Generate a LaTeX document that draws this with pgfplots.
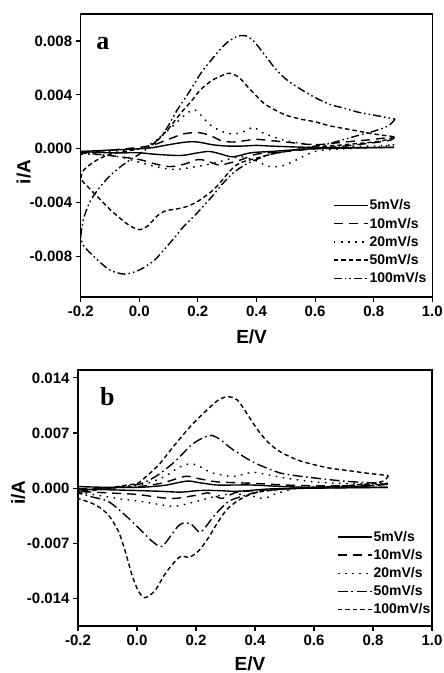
\documentclass[border=0pt]{standalone}
\usepackage{fontspec}
\setmainfont{Liberation Sans}
\newfontfamily\lettfont{Liberation Serif}
\usepackage{pgfplots}
\pgfplotsset{compat=1.18}

\pgfplotsset{
  cvaxis/.style={
    scale only axis,
    xmin=-0.2, xmax=1.0,
    xtick={-0.2,0,0.2,0.4,0.6,0.8,1.0},
    tick align=outside, tick pos=left,
    major tick length=5pt,
    every tick/.style={black, line width=1.1pt},
    axis line style={line width=1.6pt},
    /pgf/number format/assume math mode=true,
    ticklabel style={font=\bfseries\fontsize{15}{15}\selectfont},
    xticklabel style={/pgf/number format/fixed, /pgf/number format/fixed zerofill, /pgf/number format/precision=1},
    yticklabel style={/pgf/number format/fixed, /pgf/number format/fixed zerofill, /pgf/number format/precision=3},
    scaled y ticks=false,
    xlabel={E/V}, ylabel={i/A},
    legend style={draw=none, fill=none, inner sep=0pt, row sep=4.5pt,
      font=\bfseries\fontsize{14}{14}\selectfont, anchor=north west,
      nodes={inner sep=1pt}, cells={anchor=west}},
    legend image code/.code={\draw[#1] (0pt,0pt) -- (34pt,0pt);},
    every axis plot/.append style={black, line width=1.4pt, no markers, smooth, tension=0.5},
  },
  s5/.style={solid},
  s10/.style={dash pattern=on 9pt off 6pt},
  s20/.style={dash pattern=on 1.6pt off 5.5pt},
  sshort/.style={dash pattern=on 4.5pt off 3pt},
  sdd/.style={dash pattern=on 8pt off 3pt on 1.6pt off 3pt on 1.6pt off 3pt},
  sdot/.style={dash pattern=on 10pt off 3.5pt on 1.6pt off 3.5pt},
}

\begin{document}
\begin{tikzpicture}
\useasboundingbox (0,0) rectangle (444pt,-673pt);

% ---- panel a ----
\begin{axis}[cvaxis,
  at={(80.7pt,-297pt)}, anchor=south west,
  width=351.6pt, height=283pt,
  ymin=-0.011, ymax=0.010,
  ytick={-0.008,-0.004,0,0.004,0.008},
  every axis x label/.style={at={(axis description cs:0.486,-0.115)}, anchor=north, inner sep=0pt,
    font=\bfseries\fontsize{19}{19}\selectfont},
  every axis y label/.style={at={(axis description cs:-0.162,0.442)}, anchor=center, rotate=90, inner sep=0pt,
    font=\bfseries\fontsize{19}{19}\selectfont},
  legend style={at={(axis cs:0.661,-0.0037)}},
]
% 5 mV/s
\addplot[s5] coordinates {(-0.2,-0.0002) (-0.1,-0.0001) (0.0,0.0000) (0.05,0.0001) (0.1,0.0003) (0.16,0.0005) (0.2,0.0005) (0.25,0.0003) (0.3,0.0002) (0.35,0.0002) (0.4,0.00025) (0.45,0.0002) (0.6,0.0001) (0.87,0.0001)};
\addlegendentry{5mV/s}
\addplot[s5, forget plot] coordinates {(0.87,0.0001) (0.6,0.0000) (0.45,-0.0002) (0.38,-0.0003) (0.32,-0.0006) (0.28,-0.0004) (0.24,-0.0002) (0.2,-0.0003) (0.14,-0.0005) (0.05,-0.0004) (0.0,-0.0003) (-0.1,-0.0003) (-0.2,-0.0002)};
% 10 mV/s
\addplot[s10] coordinates {(-0.2,-0.0003) (-0.1,-0.0001) (0.0,0.0001) (0.05,0.0003) (0.1,0.0007) (0.15,0.0011) (0.2,0.0012) (0.24,0.0010) (0.28,0.0006) (0.32,0.0005) (0.36,0.0006) (0.4,0.0007) (0.45,0.0006) (0.5,0.0005) (0.6,0.0003) (0.7,0.0005) (0.8,0.0007) (0.87,0.0009)};
\addlegendentry{10mV/s}
\addplot[s10, forget plot] coordinates {(0.87,0.0009) (0.85,0.0006) (0.7,0.0002) (0.6,0.0000) (0.5,-0.0002) (0.4,-0.0004) (0.35,-0.0008) (0.3,-0.0011) (0.27,-0.0012) (0.23,-0.0009) (0.2,-0.0008) (0.16,-0.0011) (0.12,-0.0013) (0.09,-0.0013) (0.05,-0.0011) (0.0,-0.0008) (-0.1,-0.0005) (-0.2,-0.0003)};
% 20 mV/s
\addplot[s20] coordinates {(-0.2,-0.0004) (-0.1,-0.0002) (0.0,0.0000) (0.05,0.0005) (0.1,0.0014) (0.15,0.0024) (0.185,0.0029) (0.21,0.0025) (0.24,0.0018) (0.28,0.0013) (0.32,0.0011) (0.36,0.0013) (0.39,0.0016) (0.42,0.0012) (0.5,0.0006) (0.6,0.0003) (0.7,0.0002) (0.8,0.0002) (0.87,0.0003)};
\addlegendentry{20mV/s}
\addplot[s20, forget plot] coordinates {(0.87,0.0003) (0.8,0.0001) (0.7,0.0000) (0.6,-0.0002) (0.52,-0.0010) (0.48,-0.0013) (0.44,-0.0013) (0.4,-0.0009) (0.35,-0.0006) (0.3,-0.0008) (0.25,-0.0011) (0.2,-0.0013) (0.14,-0.0015) (0.1,-0.0015) (0.05,-0.0013) (0.0,-0.0010) (-0.05,-0.0007) (-0.1,-0.0005) (-0.2,-0.0004)};
% 50 mV/s
\addplot[sshort] coordinates {(-0.2,-0.0022) (-0.19,-0.0016) (-0.15,-0.0009) (-0.1,-0.0004) (-0.05,-0.0002) (0.0,0.0000) (0.05,0.0004) (0.1,0.0015) (0.14,0.0026) (0.18,0.0036) (0.21,0.0044) (0.25,0.0051) (0.29,0.0055) (0.31,0.0056) (0.34,0.0053) (0.37,0.0046) (0.4,0.0039) (0.43,0.0033) (0.47,0.0028) (0.5,0.0025) (0.55,0.0022) (0.6,0.0020) (0.65,0.0017) (0.7,0.0015) (0.75,0.0013) (0.8,0.0011) (0.867,0.0009)};
\addlegendentry{50mV/s}
\addplot[sshort, forget plot] coordinates {(0.867,0.0009) (0.85,0.0007) (0.8,0.0005) (0.7,0.0003) (0.6,0.0001) (0.5,-0.0002) (0.45,-0.0004) (0.4,-0.0007) (0.35,-0.0010) (0.32,-0.0014) (0.28,-0.0024) (0.25,-0.0031) (0.2,-0.0039) (0.16,-0.0043) (0.12,-0.0045) (0.09,-0.0046) (0.06,-0.0050) (0.03,-0.0057) (0.0,-0.0060) (-0.04,-0.0056) (-0.1,-0.0045) (-0.145,-0.0035) (-0.19,-0.0025) (-0.2,-0.0022)};
% 100 mV/s
\addplot[sdd] coordinates {(-0.2,-0.0065) (-0.19,-0.0052) (-0.17,-0.0040) (-0.14,-0.0030) (-0.1,-0.0020) (-0.05,-0.0011) (0.0,-0.0004) (0.05,0.0004) (0.09,0.0014) (0.13,0.0029) (0.17,0.0042) (0.21,0.0056) (0.25,0.0067) (0.29,0.0077) (0.33,0.0083) (0.36,0.0084) (0.39,0.0080) (0.43,0.0069) (0.47,0.0058) (0.51,0.0050) (0.56,0.0043) (0.6,0.0038) (0.65,0.0033) (0.7,0.0030) (0.75,0.0027) (0.8,0.0025) (0.873,0.0022)};
\addlegendentry{100mV/s}
\addplot[sdd, forget plot] coordinates {(0.873,0.0022) (0.85,0.0017) (0.8,0.0013) (0.765,0.0011) (0.7,0.0007) (0.65,0.0004) (0.6,0.0002) (0.55,0.0000) (0.5,-0.0002) (0.45,-0.0004) (0.4,-0.0008) (0.36,-0.0012) (0.32,-0.0018) (0.28,-0.0027) (0.25,-0.0035) (0.2,-0.0047) (0.15,-0.0058) (0.12,-0.0066) (0.08,-0.0076) (0.05,-0.0083) (0.0,-0.0090) (-0.05,-0.0093) (-0.1,-0.0090) (-0.145,-0.0082) (-0.19,-0.0072) (-0.2,-0.0065)};
\node[font=\lettfont\bfseries\fontsize{26}{26}\selectfont, anchor=base] at (rel axis cs:0.063,0.873) {a};
\end{axis}

% ---- panel b ----
\begin{axis}[cvaxis,
  at={(78pt,-626pt)}, anchor=south west,
  width=354pt, height=256pt,
  ymin=-0.0175, ymax=0.015,
  ytick={-0.014,-0.007,0,0.007,0.014},
  every axis x label/.style={at={(axis description cs:0.486,-0.118)}, anchor=north, inner sep=0pt,
    font=\bfseries\fontsize{19}{19}\selectfont},
  every axis y label/.style={at={(axis description cs:-0.169,0.521)}, anchor=center, rotate=90, inner sep=0pt,
    font=\bfseries\fontsize{19}{19}\selectfont},
  legend style={at={(axis cs:0.678,-0.0053)}},
]
% 5 mV/s
\addplot[s5] coordinates {(-0.2,0.0002) (-0.1,0.0001) (0.0,0.0001) (0.05,0.0002) (0.1,0.0004) (0.17,0.0009) (0.21,0.0007) (0.27,0.0004) (0.33,0.0004) (0.39,0.0004) (0.5,0.0002) (0.6,0.0001) (0.85,0.0001)};
\addlegendentry{5mV/s}
\addplot[s5, forget plot] coordinates {(0.85,0.0001) (0.6,0.0000) (0.45,-0.0001) (0.38,-0.0003) (0.33,-0.0004) (0.27,-0.0003) (0.21,-0.0003) (0.15,-0.0005) (0.08,-0.0004) (0.0,-0.0003) (-0.1,-0.0002) (-0.2,-0.0001)};
% 10 mV/s
\addplot[s10] coordinates {(-0.2,-0.0001) (-0.1,0.0000) (0.0,0.0002) (0.05,0.0004) (0.1,0.0008) (0.165,0.0015) (0.21,0.0012) (0.27,0.0008) (0.33,0.0007) (0.4,0.0006) (0.5,0.0004) (0.6,0.0003) (0.7,0.0003) (0.85,0.0005)};
\addlegendentry{10mV/s}
\addplot[s10, forget plot] coordinates {(0.85,0.0005) (0.7,0.0001) (0.55,0.0000) (0.45,-0.0002) (0.37,-0.0004) (0.33,-0.0006) (0.29,-0.0013) (0.26,-0.0009) (0.24,-0.0006) (0.2,-0.0009) (0.13,-0.0013) (0.08,-0.0012) (0.0,-0.0008) (-0.1,-0.0006) (-0.2,-0.0004)};
% 20 mV/s
\addplot[s20] coordinates {(-0.2,-0.0002) (-0.1,0.0000) (0.0,0.0003) (0.05,0.0008) (0.1,0.0016) (0.14,0.0026) (0.18,0.0031) (0.21,0.0028) (0.25,0.0020) (0.3,0.0016) (0.33,0.0015) (0.39,0.0020) (0.43,0.0018) (0.5,0.0013) (0.6,0.0008) (0.7,0.0006) (0.85,0.0005)};
\addlegendentry{20mV/s}
\addplot[s20, forget plot] coordinates {(0.85,0.0005) (0.7,0.0001) (0.55,0.0000) (0.5,-0.0004) (0.47,-0.0007) (0.43,-0.0013) (0.39,-0.0010) (0.33,-0.0007) (0.27,-0.0010) (0.2,-0.0017) (0.13,-0.0023) (0.08,-0.0021) (0.016,-0.0017) (-0.05,-0.0014) (-0.1,-0.0011) (-0.2,-0.0005)};
% 50 mV/s
\addplot[sdot] coordinates {(-0.2,-0.0004) (-0.1,0.0000) (-0.05,0.0002) (0.016,0.0006) (0.072,0.0017) (0.129,0.0034) (0.185,0.0055) (0.225,0.0064) (0.253,0.0067) (0.285,0.0061) (0.321,0.0050) (0.389,0.0034) (0.45,0.0024) (0.5,0.0018) (0.6,0.0013) (0.7,0.0009) (0.78,0.0007) (0.85,0.0006)};
\addlegendentry{50mV/s}
\addplot[sdot, forget plot] coordinates {(0.85,0.0006) (0.8,0.0003) (0.7,0.0002) (0.6,0.0001) (0.5,-0.0001) (0.42,-0.0004) (0.36,-0.0010) (0.31,-0.0017) (0.264,-0.0034) (0.219,-0.0055) (0.2,-0.0052) (0.185,-0.0046) (0.16,-0.0044) (0.14,-0.0048) (0.117,-0.0059) (0.084,-0.0074) (0.05,-0.0067) (0.004,-0.0050) (-0.041,-0.0034) (-0.097,-0.0017) (-0.154,-0.0011) (-0.2,-0.0006)};
% 100 mV/s
\addplot[sshort] coordinates {(-0.2,-0.0007) (-0.15,-0.0003) (-0.1,0.0000) (-0.05,0.0003) (0.0,0.0006) (0.016,0.0010) (0.072,0.0029) (0.128,0.0055) (0.185,0.0080) (0.242,0.0101) (0.28,0.0113) (0.31,0.0116) (0.34,0.0112) (0.372,0.0095) (0.4,0.0079) (0.428,0.0065) (0.46,0.0053) (0.496,0.0044) (0.55,0.0035) (0.609,0.0029) (0.66,0.0025) (0.722,0.0022) (0.78,0.0019) (0.852,0.0016)};
\addlegendentry{100mV/s}
\addplot[sshort, forget plot] coordinates {(0.852,0.0016) (0.84,0.0010) (0.8,0.0006) (0.7,0.0003) (0.6,0.0001) (0.5,-0.0001) (0.45,-0.0003) (0.4,-0.0006) (0.355,-0.0013) (0.31,-0.0025) (0.276,-0.0042) (0.242,-0.0063) (0.208,-0.0080) (0.175,-0.0088) (0.151,-0.0086) (0.129,-0.0093) (0.095,-0.0109) (0.061,-0.0130) (0.027,-0.0139) (0.004,-0.0130) (-0.018,-0.0109) (-0.04,-0.0080) (-0.063,-0.0055) (-0.097,-0.0034) (-0.142,-0.0021) (-0.2,-0.0013)};
\node[font=\lettfont\bfseries\fontsize{26}{26}\selectfont, anchor=base] at (rel axis cs:0.083,0.863) {b};
\end{axis}
\end{tikzpicture}
\end{document}
